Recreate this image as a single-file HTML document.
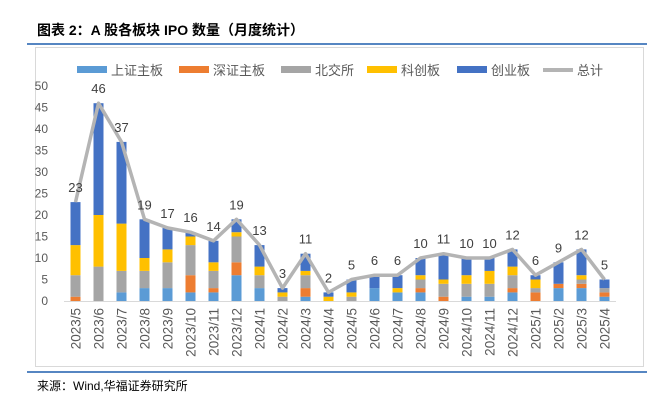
<!DOCTYPE html>
<html><head><meta charset="utf-8"><style>
body{margin:0;background:#fff;width:647px;height:403px;overflow:hidden;font-family:"Liberation Sans","Noto Sans CJK SC",sans-serif;}
</style></head><body>
<svg width="647" height="403" xmlns="http://www.w3.org/2000/svg" id="chart">
<text x="37" y="35" font-size="14" font-weight="bold" fill="#000" font-family="Liberation Sans, Noto Sans CJK SC, sans-serif">图表 2：A 股各板块 IPO 数量（月度统计）</text>
<line x1="27" y1="44" x2="647" y2="44" stroke="#1f5fae" stroke-width="1.5"/>
<rect x="35.5" y="47.5" width="608" height="319" fill="none" stroke="#d9d9d9"/>
<line x1="27" y1="372" x2="647" y2="372" stroke="#1f5fae" stroke-width="1.5"/>
<text x="37" y="390" font-size="12" fill="#000">来源：Wind,华福证券研究所</text>
<g id="legend"></g><g id="plot"></g>
</svg>
<script>
const categories=["2023/5","2023/6","2023/7","2023/8","2023/9","2023/10","2023/11","2023/12","2024/1","2024/2","2024/3","2024/4","2024/5","2024/6","2024/7","2024/8","2024/9","2024/10","2024/11","2024/12","2025/1","2025/2","2025/3","2025/4"];
const shMain=[0,0,2,3,3,2,2,6,3,0,1,0,0,3,2,2,0,1,1,2,0,3,3,1];
const szMain=[1,0,0,0,0,4,1,3,0,0,2,0,0,0,0,1,1,0,0,1,2,1,1,1];
const bse=[5,8,5,4,6,7,4,6,3,1,3,0,1,0,0,2,3,3,3,3,1,0,1,1];
const star=[7,12,11,3,3,2,2,1,2,1,1,1,1,0,1,1,1,2,3,2,2,0,1,0];
const chinext=[10,26,19,9,5,1,5,3,5,1,4,1,3,3,3,4,6,4,3,4,1,5,6,2];
const totals=[23,46,37,19,17,16,14,19,13,3,11,2,5,6,6,10,11,10,10,12,6,9,12,5];
const yTicks=[0,5,10,15,20,25,30,35,40,45,50];
const seriesNames=["上证主板","深证主板","北交所","科创板","创业板","总计"];
const colors=["#5b9bd5","#ed7d31","#a5a5a5","#ffc000","#4472c4","#b4b4b4"];
const NS="http://www.w3.org/2000/svg";
const x0=64,band=23,yBase=301,yPer=4.3;
const xC=i=>x0+band*(i+0.5);
const yV=v=>yBase-v*yPer;
function mk(tag,attrs,parent){const e=document.createElementNS(NS,tag);for(const k in attrs)e.setAttribute(k,attrs[k]);parent.appendChild(e);return e;}
const plot=document.getElementById('plot');const legend=document.getElementById('legend');
yTicks.forEach(t=>{const tx=mk('text',{x:48,y:yV(t)+4,'font-size':12,fill:'#595959','text-anchor':'end'},plot);tx.textContent=t;

});
const ax=mk('line',{x1:x0,y1:yBase+0.5,x2:x0+band*24,y2:yBase+0.5,stroke:'#d9d9d9'},plot);


const series=[shMain,szMain,bse,star,chinext];
const bw=10;
categories.forEach((c,i)=>{let acc=0;
series.forEach((s,k)=>{const v=s[i];if(v>0){const r=mk('rect',{x:xC(i)-bw/2,y:yV(acc+v),width:bw,height:v*yPer,fill:colors[k]},plot);

}acc+=v;});
const t=mk('text',{transform:`translate(${xC(i)+5},${yBase+7}) rotate(-90)`,'font-size':13.5,fill:'#595959','text-anchor':'end'},plot);t.textContent=c;

});
const pts=totals.map((v,i)=>xC(i)+','+yV(v)).join(' ');
const pl=mk('polyline',{points:pts,fill:'none',stroke:colors[5],'stroke-width':3.5,'stroke-linejoin':'round'},plot);


totals.forEach((v,i)=>{const t=mk('text',{x:xC(i),y:yV(v)-10,'font-size':13,fill:'#404040','text-anchor':'middle'},plot);t.textContent=v;

});
const lx=[77,179,281,367,457,543];
seriesNames.forEach((n,k)=>{const g=mk('g',{},legend);


mk('rect',{x:lx[k],y:k==5?68:66,width:30,height:k==5?4:7,fill:colors[k]},g);
const t=mk('text',{x:lx[k]+34,y:75,'font-size':13,fill:'#595959'},g);t.textContent=n;});
</script>
</body></html>
